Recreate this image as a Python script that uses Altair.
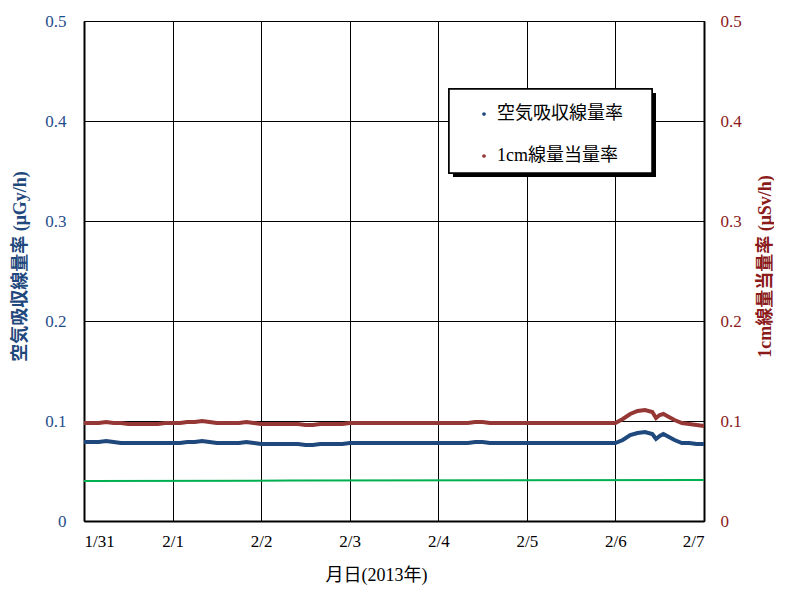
import altair as alt
import pandas as pd

# ---- data ----
hours = [0, 2, 4, 6, 8, 10, 12, 14, 16, 18, 20, 22,
         24, 26, 28, 30, 32, 34, 36, 38, 40, 42, 44, 46,
         48, 50, 52, 54, 56, 58, 60, 62, 64, 66, 68, 70,
         72, 74, 76, 78, 80, 82, 84, 86, 88, 90, 92, 94,
         96, 98, 100, 102, 104, 106, 108, 110, 112, 114, 116, 118,
         120, 122, 124, 126, 128, 130, 132, 134, 136, 138, 140, 142,
         144, 146, 148, 150, 152, 154, 155, 156, 157, 158, 160, 162, 164, 166, 168]

air_dose = [0.079, 0.079, 0.079, 0.080, 0.079, 0.078, 0.078, 0.078, 0.078, 0.078, 0.078, 0.078,
            0.078, 0.078, 0.079, 0.079, 0.080, 0.079, 0.078, 0.078, 0.078, 0.078, 0.079, 0.078,
            0.077, 0.077, 0.077, 0.077, 0.077, 0.077, 0.076, 0.076, 0.077, 0.077, 0.077, 0.077,
            0.078, 0.078, 0.078, 0.078, 0.078, 0.078, 0.078, 0.078, 0.078, 0.078, 0.078, 0.078,
            0.078, 0.078, 0.078, 0.078, 0.078, 0.079, 0.079, 0.078, 0.078, 0.078, 0.078, 0.078,
            0.078, 0.078, 0.078, 0.078, 0.078, 0.078, 0.078, 0.078, 0.078, 0.078, 0.078, 0.078,
            0.078, 0.081, 0.086, 0.088, 0.089, 0.087, 0.082, 0.085, 0.087, 0.085, 0.081, 0.078, 0.078, 0.077, 0.077]

cm_dose = [0.098, 0.098, 0.098, 0.099, 0.098, 0.098, 0.097, 0.097, 0.097, 0.097, 0.097, 0.098,
           0.098, 0.098, 0.099, 0.099, 0.100, 0.099, 0.098, 0.098, 0.098, 0.098, 0.099, 0.098,
           0.097, 0.097, 0.097, 0.097, 0.097, 0.097, 0.096, 0.096, 0.097, 0.097, 0.097, 0.097,
           0.098, 0.098, 0.098, 0.098, 0.098, 0.098, 0.098, 0.098, 0.098, 0.098, 0.098, 0.098,
           0.098, 0.098, 0.098, 0.098, 0.098, 0.099, 0.099, 0.098, 0.098, 0.098, 0.098, 0.098,
           0.098, 0.098, 0.098, 0.098, 0.098, 0.098, 0.098, 0.098, 0.098, 0.098, 0.098, 0.098,
           0.098, 0.102, 0.107, 0.110, 0.111, 0.109, 0.103, 0.106, 0.107, 0.105, 0.101, 0.098, 0.097, 0.096, 0.095]

green_hours = [0, 56, 168]
green_vals = [0.0400, 0.0404, 0.0410]

day_labels = ["1/31", "2/1", "2/2", "2/3", "2/4", "2/5", "2/6", "2/7"]
day_ticks = [0, 24, 48, 72, 96, 120, 144, 168]
y_ticks = [0, 0.1, 0.2, 0.3, 0.4, 0.5]
series_names = ["空気吸収線量率", "1cm線量当量率"]

# ---- styles ----
FONT = "Liberation Serif, Noto Sans CJK JP"
NUMFONT = "Liberation Serif"
BLUE = "#1F497D"
RED = "#953735"
GREEN = "#00B050"
LBLUE = "#1F4E8C"
LRED = "#8B1A1A"

df_air = pd.DataFrame({"h": hours, "v": air_dose, "s": series_names[0]})
df_cm = pd.DataFrame({"h": hours, "v": cm_dose, "s": series_names[1]})
df_g = pd.DataFrame({"h": green_hours, "v": green_vals})

label_expr = "[" + ",".join(f"'{l}'" for l in day_labels) + "][round(datum.value/24)]"

x_enc = alt.X(
    "h:Q",
    scale=alt.Scale(domain=[0, 168], nice=False, zero=False),
    axis=alt.Axis(
        values=day_ticks, labelExpr=label_expr, title="月日(2013年)",
        grid=True, gridColor="black", gridWidth=1, gridOpacity=1,
        ticks=False, domainColor="black", domainWidth=2,
        labelFont=NUMFONT, labelFontSize=17, labelColor="black", labelPadding=12,
        titleFont=FONT, titleFontSize=18, titleFontWeight="normal", titleColor="black",
        titleX=292, titleY=45, titleBaseline="top",
    ),
)

y_left = alt.Y(
    "v:Q",
    scale=alt.Scale(domain=[0, 0.5], nice=False),
    axis=alt.Axis(
        orient="left", values=y_ticks, format="~g",
        grid=True, gridColor="black", gridWidth=1, gridOpacity=1,
        ticks=False, domainColor="black", domainWidth=2,
        labelFont=NUMFONT, labelFontSize=17, labelColor=LBLUE, labelPadding=18,
        title="空気吸収線量率 (μGy/h)", titleFont=FONT, titleFontSize=18,
        titleFontWeight="bold", titleColor=BLUE,
        titleX=-64, titleY=245, titleBaseline="middle", titleAngle=270,
    ),
)

y_right = alt.Y(
    "v:Q",
    scale=alt.Scale(domain=[0, 0.5], nice=False),
    axis=alt.Axis(
        orient="right", values=y_ticks, format="~g",
        grid=False, ticks=False, domainColor="black", domainWidth=2,
        labelFont=NUMFONT, labelFontSize=17, labelColor=LRED, labelPadding=16,
        title="1cm線量当量率 (μSv/h)", titleFont=FONT, titleFontSize=18,
        titleFontWeight="bold", titleColor=LRED,
        titleX=61, titleY=245, titleBaseline="middle", titleAngle=270,
    ),
)

color = alt.Color(
    "s:N",
    scale=alt.Scale(domain=series_names, range=[BLUE, RED]),
    legend=alt.Legend(
        title=None, orient="none", legendX=391, legendY=84, padding=0,
        symbolType="circle", symbolSize=3, symbolStrokeWidth=2,
        labelFont=FONT, labelFontSize=18, labelColor="black", labelOffset=4,
        rowPadding=24,
    ),
)

shadow = alt.Chart(df_g).mark_rect(color="black").encode(
    x=alt.value(369), x2=alt.value(572), y=alt.value(72), y2=alt.value(156)
)
box = alt.Chart(df_g).mark_rect(fill="white", stroke="black", strokeWidth=1.5).encode(
    x=alt.value(365), x2=alt.value(568), y=alt.value(68), y2=alt.value(152)
)

green_line = alt.Chart(df_g).mark_line(color=GREEN, strokeWidth=2).encode(x=x_enc, y=y_left)
air_line = alt.Chart(df_air).mark_line(strokeWidth=4).encode(x=x_enc, y=y_left, color=color)
cm_line = alt.Chart(df_cm).mark_line(strokeWidth=4).encode(x=x_enc, y=y_right, color=color)

left = alt.layer(shadow, box, green_line, air_line)
chart = alt.layer(left, cm_line).resolve_scale(y="independent", color="shared").properties(
    width=620, height=500,
    autosize=alt.AutoSizeParams(type="none"),
    padding={"left": 76, "top": 13, "right": 70, "bottom": 66},
    background="white",
).configure_view(stroke="black", strokeWidth=1)

chart.save("out.html", embed_options={"renderer": "svg", "actions": False})
